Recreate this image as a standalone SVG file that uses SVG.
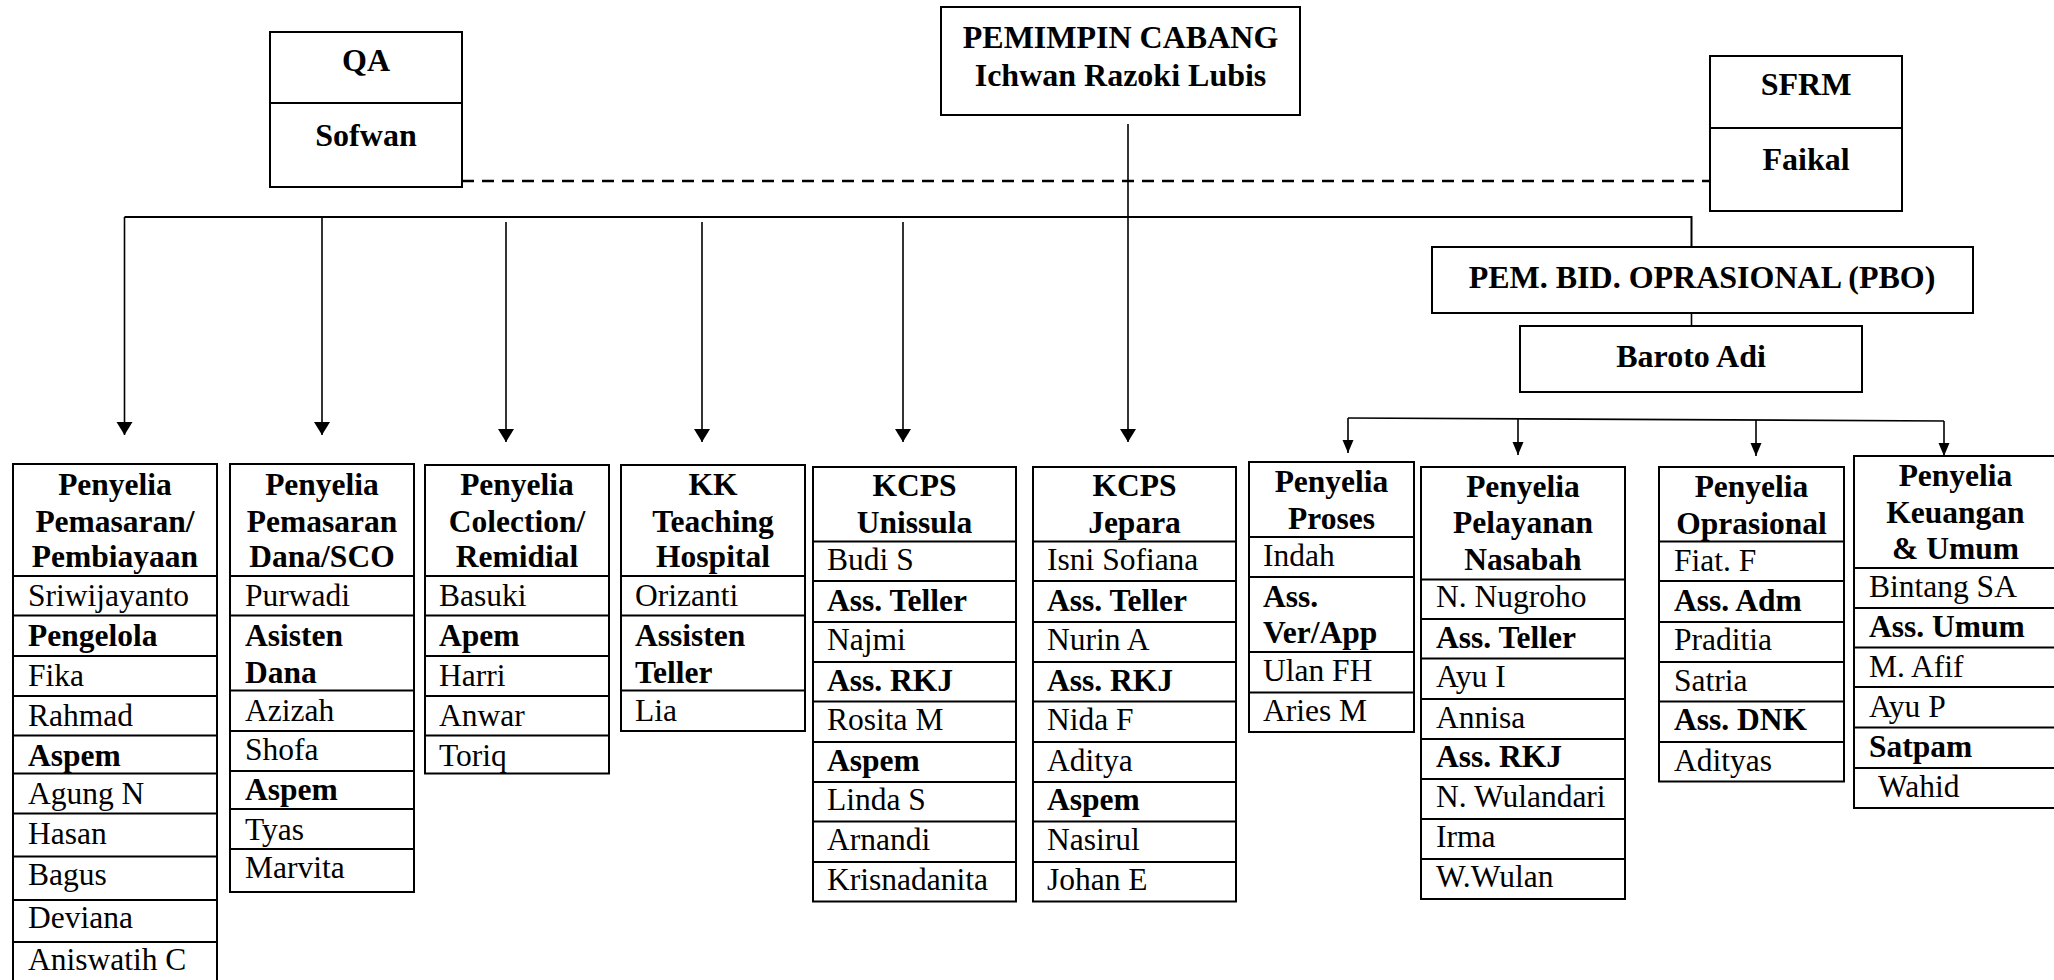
<svg xmlns="http://www.w3.org/2000/svg" width="2054" height="980" viewBox="0 0 2054 980">
<style>
text{font-family:"Liberation Serif","Times New Roman",serif;font-size:31.5px;fill:#000}
.b{font-weight:bold}
.c{text-anchor:middle}
.t{font-size:32px;font-weight:bold;text-anchor:middle}
.box{fill:#fff;stroke:#000;stroke-width:2}
.div{stroke:#000;stroke-width:2}
.ln{fill:none;stroke:#000;stroke-width:2}
.ar{fill:none;stroke:#000;stroke-width:1.6}
.dash{fill:none;stroke:#000;stroke-width:2.5;stroke-dasharray:12 8}
</style>
<defs>
<marker id="ah" markerUnits="userSpaceOnUse" markerWidth="20" markerHeight="20" viewBox="0 -10 14 20" refX="13" refY="0" orient="auto"><path d="M0,-8 L13,0 L0,8 Z" fill="#000"/></marker>
<marker id="ahs" markerUnits="userSpaceOnUse" markerWidth="20" markerHeight="20" viewBox="0 -10 14 20" refX="13" refY="0" orient="auto"><path d="M0,-5.5 L13,0 L0,5.5 Z" fill="#000"/></marker>
</defs>
<rect width="2054" height="980" fill="#fff"/>
<g id="connectors">
<path class="dash" d="M462,181 H1710"/>
<path class="ln" d="M124.5,217 H1691.5 V247"/>
<path class="ar" d="M124.5,217 V435" marker-end="url(#ah)"/>
<path class="ar" d="M322,217 V435" marker-end="url(#ah)"/>
<path class="ar" d="M506,222 V442" marker-end="url(#ah)"/>
<path class="ar" d="M702,222 V442" marker-end="url(#ah)"/>
<path class="ar" d="M903,222 V442" marker-end="url(#ah)"/>
<path class="ar" d="M1128,124 V442" marker-end="url(#ah)"/>
<path class="ar" d="M1691.5,313 V326"/>
<path class="ar" d="M1348,418 L1944,421"/>
<path class="ar" d="M1348,418 V453" marker-end="url(#ahs)"/>
<path class="ar" d="M1518,419 V455" marker-end="url(#ahs)"/>
<path class="ar" d="M1756,420 V456" marker-end="url(#ahs)"/>
<path class="ar" d="M1944,421 V456" marker-end="url(#ahs)"/>
</g>
<g id="pemimpin">
<rect class="box" x="941" y="7" width="359" height="108"/>
<text class="t" x="1120.5" y="48">PEMIMPIN CABANG</text>
<text class="t" x="1120.5" y="86">Ichwan Razoki Lubis</text>
</g>
<g id="qa">
<rect class="box" x="270" y="32" width="192" height="155"/>
<line class="div" x1="270" y1="103" x2="462" y2="103"/>
<text class="t" x="366" y="71">QA</text>
<text class="t" x="366" y="146">Sofwan</text>
</g>
<g id="sfrm">
<rect class="box" x="1710" y="56" width="192" height="155"/>
<line class="div" x1="1710" y1="128" x2="1902" y2="128"/>
<text class="t" x="1806" y="95">SFRM</text>
<text class="t" x="1806" y="170">Faikal</text>
</g>
<g id="pbo">
<rect class="box" x="1432" y="247" width="541" height="66"/>
<text class="t" x="1702" y="288">PEM. BID. OPRASIONAL (PBO)</text>
</g>
<g id="baroto">
<rect class="box" x="1520" y="326" width="342" height="66"/>
<text class="t" x="1691" y="367">Baroto Adi</text>
</g>
<g id="pemasaran-pembiayaan">
<rect class="box" x="13" y="464" width="204" height="530"/>
<path class="div" d="M13,576H217M13,615.5H217M13,656H217M13,696H217M13,735.5H217M13,773.5H217M13,813.5H217M13,856.5H217M13,900H217M13,942H217"/>
<text class="b c" x="115" y="495">Penyelia</text>
<text class="b c" x="115" y="532">Pemasaran/</text>
<text class="b c" x="115" y="567">Pembiayaan</text>
<text x="28" y="606">Sriwijayanto</text>
<text class="b" x="28" y="646">Pengelola</text>
<text x="28" y="685.5">Fika</text>
<text x="28" y="726">Rahmad</text>
<text class="b" x="28" y="765.5">Aspem</text>
<text x="28" y="803.5">Agung N</text>
<text x="28" y="843.5">Hasan</text>
<text x="28" y="885">Bagus</text>
<text x="28" y="928">Deviana</text>
<text x="28" y="970">Aniswatih C</text>
</g>
<g id="pemasaran-dana">
<rect class="box" x="230" y="464" width="184" height="428"/>
<path class="div" d="M230,576H414M230,615.5H414M230,690.5H414M230,731H414M230,771H414M230,809H414M230,849H414"/>
<text class="b c" x="322" y="495">Penyelia</text>
<text class="b c" x="322" y="532">Pemasaran</text>
<text class="b c" x="322" y="567">Dana/SCO</text>
<text x="245" y="606">Purwadi</text>
<text class="b" x="245" y="646">Asisten</text>
<text class="b" x="245" y="683">Dana</text>
<text x="245" y="720.5">Azizah</text>
<text x="245" y="760">Shofa</text>
<text class="b" x="245" y="800">Aspem</text>
<text x="245" y="839.5">Tyas</text>
<text x="245" y="878">Marvita</text>
</g>
<g id="colection">
<rect class="box" x="425" y="465" width="184" height="308.5"/>
<path class="div" d="M425,576H609M425,615.5H609M425,656H609M425,696H609M425,735.5H609"/>
<text class="b c" x="517" y="495">Penyelia</text>
<text class="b c" x="517" y="532">Colection/</text>
<text class="b c" x="517" y="567">Remidial</text>
<text x="439" y="606">Basuki</text>
<text class="b" x="439" y="646">Apem</text>
<text x="439" y="685.5">Harri</text>
<text x="439" y="726">Anwar</text>
<text x="439" y="765.5">Toriq</text>
</g>
<g id="kk-teaching">
<rect class="box" x="621" y="465" width="184" height="266"/>
<path class="div" d="M621,576H805M621,615.5H805M621,690.5H805"/>
<text class="b c" x="713" y="495">KK</text>
<text class="b c" x="713" y="532">Teaching</text>
<text class="b c" x="713" y="567">Hospital</text>
<text x="635" y="606">Orizanti</text>
<text class="b" x="635" y="646">Assisten</text>
<text class="b" x="635" y="683">Teller</text>
<text x="635" y="720.5">Lia</text>
</g>
<g id="kcps-unissula">
<rect class="box" x="813" y="467" width="203" height="434.5"/>
<path class="div" d="M813,541.5H1016M813,581H1016M813,622H1016M813,662H1016M813,701.5H1016M813,742H1016M813,782H1016M813,821.5H1016M813,862H1016"/>
<text class="b c" x="914.5" y="496">KCPS</text>
<text class="b c" x="914.5" y="533">Unissula</text>
<text x="827" y="570">Budi S</text>
<text class="b" x="827" y="611">Ass. Teller</text>
<text x="827" y="650">Najmi</text>
<text class="b" x="827" y="690.5">Ass. RKJ</text>
<text x="827" y="730">Rosita M</text>
<text class="b" x="827" y="770.5">Aspem</text>
<text x="827" y="810">Linda S</text>
<text x="827" y="850">Arnandi</text>
<text x="827" y="889.5">Krisnadanita</text>
</g>
<g id="kcps-jepara">
<rect class="box" x="1033" y="467" width="203" height="434.5"/>
<path class="div" d="M1033,541.5H1236M1033,581H1236M1033,622H1236M1033,662H1236M1033,701.5H1236M1033,742H1236M1033,782H1236M1033,821.5H1236M1033,862H1236"/>
<text class="b c" x="1134.5" y="496">KCPS</text>
<text class="b c" x="1134.5" y="533">Jepara</text>
<text x="1047" y="570">Isni Sofiana</text>
<text class="b" x="1047" y="611">Ass. Teller</text>
<text x="1047" y="650">Nurin A</text>
<text class="b" x="1047" y="690.5">Ass. RKJ</text>
<text x="1047" y="730">Nida F</text>
<text x="1047" y="770.5">Aditya</text>
<text class="b" x="1047" y="810">Aspem</text>
<text x="1047" y="850">Nasirul</text>
<text x="1047" y="889.5">Johan E</text>
</g>
<g id="proses">
<rect class="box" x="1249" y="462" width="165" height="270"/>
<path class="div" d="M1249,537H1414M1249,577H1414M1249,652H1414M1249,692.5H1414"/>
<text class="b c" x="1331.5" y="491.5">Penyelia</text>
<text class="b c" x="1331.5" y="529">Proses</text>
<text x="1263" y="565.5">Indah</text>
<text class="b" x="1263" y="607">Ass.</text>
<text class="b" x="1263" y="643">Ver/App</text>
<text x="1263" y="681">Ulan FH</text>
<text x="1263" y="720.5">Aries M</text>
</g>
<g id="pelayanan-nasabah">
<rect class="box" x="1421" y="467" width="204" height="432"/>
<path class="div" d="M1421,579.5H1625M1421,619H1625M1421,658.5H1625M1421,699H1625M1421,739H1625M1421,779H1625M1421,819H1625M1421,859H1625"/>
<text class="b c" x="1523" y="497">Penyelia</text>
<text class="b c" x="1523" y="533">Pelayanan</text>
<text class="b c" x="1523" y="570">Nasabah</text>
<text x="1436" y="607">N. Nugroho</text>
<text class="b" x="1436" y="648">Ass. Teller</text>
<text x="1436" y="687">Ayu I</text>
<text x="1436" y="727.5">Annisa</text>
<text class="b" x="1436" y="767">Ass. RKJ</text>
<text x="1436" y="807">N. Wulandari</text>
<text x="1436" y="847">Irma</text>
<text x="1436" y="887">W.Wulan</text>
</g>
<g id="oprasional">
<rect class="box" x="1659" y="467" width="185" height="314.5"/>
<path class="div" d="M1659,541.5H1844M1659,581H1844M1659,622H1844M1659,662H1844M1659,701.5H1844M1659,742H1844"/>
<text class="b c" x="1751.5" y="497">Penyelia</text>
<text class="b c" x="1751.5" y="533.5">Oprasional</text>
<text x="1674" y="571">Fiat. F</text>
<text class="b" x="1674" y="611">Ass. Adm</text>
<text x="1674" y="650">Praditia</text>
<text x="1674" y="690.5">Satria</text>
<text class="b" x="1674" y="730">Ass. DNK</text>
<text x="1674" y="770.5">Adityas</text>
</g>
<g id="keuangan-umum">
<rect class="box" x="1854" y="456" width="204" height="352"/>
<path class="div" d="M1854,568H2058M1854,608H2058M1854,647.5H2058M1854,687H2058M1854,727.5H2058M1854,768H2058"/>
<text class="b c" x="1955.5" y="486">Penyelia</text>
<text class="b c" x="1955.5" y="522.5">Keuangan</text>
<text class="b c" x="1955.5" y="559">&amp; Umum</text>
<text x="1869" y="596.5">Bintang SA</text>
<text class="b" x="1869" y="637">Ass. Umum</text>
<text x="1869" y="677">M. Afif</text>
<text x="1869" y="716.5">Ayu P</text>
<text class="b" x="1869" y="757">Satpam</text>
<text x="1878" y="796.5">Wahid</text>
</g>
</svg>
